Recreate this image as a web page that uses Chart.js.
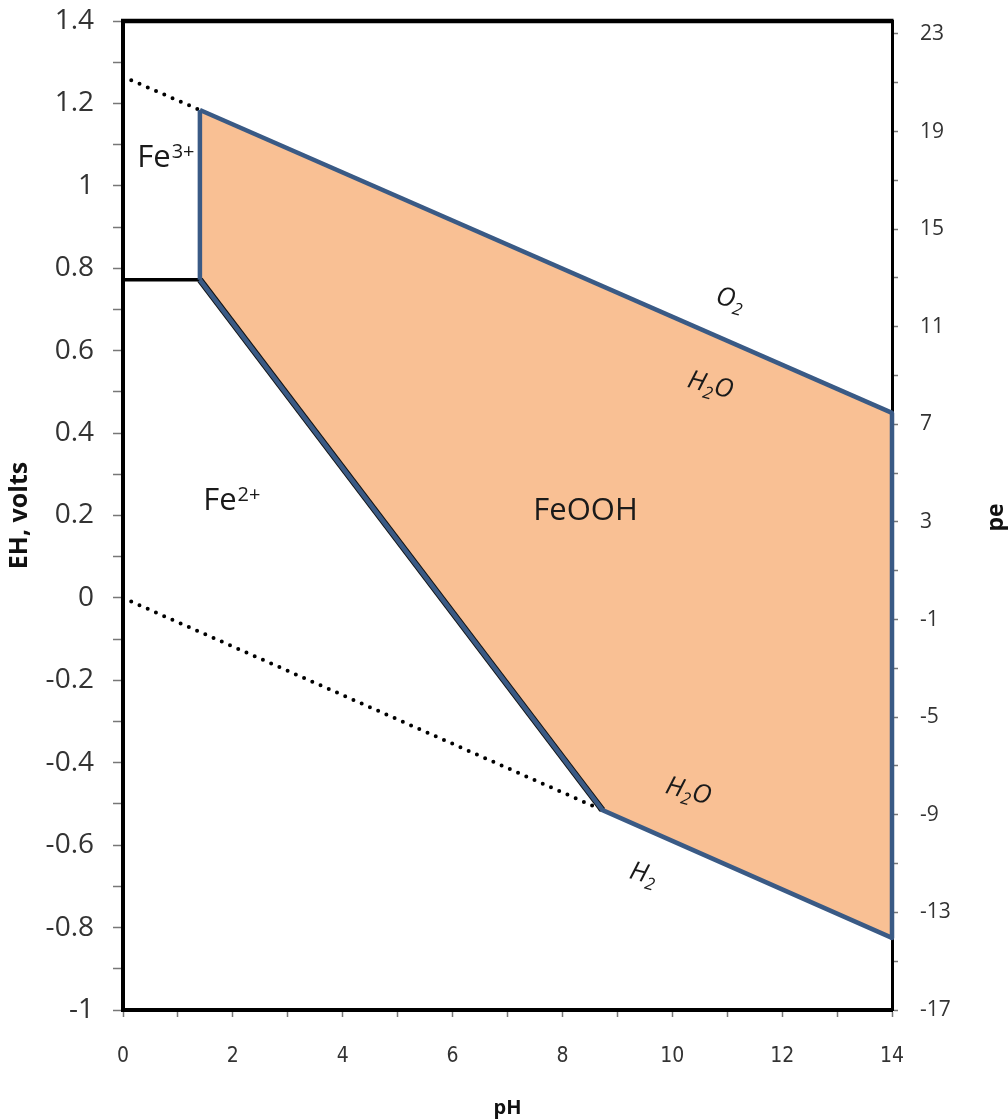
<!DOCTYPE html>
<html>
<head>
<meta charset="utf-8">
<title>Fe Eh-pH diagram</title>
<script src="https://cdn.jsdelivr.net/npm/chart.js@4/dist/chart.umd.min.js"></script>
<style>
  html, body { margin: 0; padding: 0; background: #ffffff; }
  #wrap { width: 1008px; height: 1120px; }
</style>
</head>
<body>
<div id="wrap"><canvas id="c" width="1008" height="1120"></canvas></div>
<script>
// Axis tick values
const phTicks = [0, 2, 4, 6, 8, 10, 12, 14];
const ehTicks = [1.4, 1.2, 1, 0.8, 0.6, 0.4, 0.2, 0, -0.2, -0.4, -0.6, -0.8, -1];
const peTicks = [23, 19, 15, 11, 7, 3, -1, -5, -9, -13, -17];

// Water stability limits (O2/H2O upper, H2O/H2 lower)
const o2PH = [0, 1.4, 14];
const o2EH = [1.265, 1.184, 0.449];
const h2PH = [0, 8.73, 14];
const h2EH = [0, -0.515, -0.825];

// Iron species boundaries
const fe3Fe2PH = [0, 1.4];          // Fe3+ / Fe2+
const fe3Fe2EH = [0.772, 0.772];
const fe3OxPH = [1.4, 1.4];          // Fe3+ / FeOOH
const fe3OxEH = [0.772, 1.184];
const fe2OxPH = [1.4, 8.73];         // Fe2+ / FeOOH
const fe2OxEH = [0.772, -0.515];

// Field and line labels, anchored in pH / Eh coordinates
const fieldLabels = [
  { main: 'Fe', sup: '3+', ph: 0.26, eh: 1.046 },
  { main: 'Fe', sup: '2+', ph: 1.46, eh: 0.214 },
  { main: 'FeOOH', sup: '', ph: 7.47, eh: 0.188 }
];
const lineLabels = [
  { main: 'O', sub: '2', tail: '', ph: 11.06, eh: 0.728 },
  { main: 'H', sub: '2', tail: 'O', ph: 10.70, eh: 0.519 },
  { main: 'H', sub: '2', tail: 'O', ph: 10.30, eh: -0.466 },
  { main: 'H', sub: '2', tail: '', ph: 9.48, eh: -0.667 }
];

const pts = (xs, ys, from = 0, to = xs.length) =>
  xs.slice(from, to).map((x, i) => ({ x, y: ys[from + i] }));

const BLUE = '#3A5A85';
const PEACH = '#F9C094';
const FONT = "'Open Sans', 'DejaVu Sans', sans-serif";

// FeOOH field: bounded above by the O2/H2O line, below by Fe2+/FeOOH then H2O/H2
const fieldUpper = pts(o2PH, o2EH, 1, 3);
const fieldLower = pts(fe2OxPH, fe2OxEH).concat(pts(h2PH, h2EH, 2, 3));
const rightEdge = [{ x: o2PH[2], y: o2EH[2] }, { x: h2PH[2], y: h2EH[2] }];

const lineDs = (data, color, width, extra = {}) => Object.assign({
  data, showLine: true, borderColor: color, borderWidth: width,
  pointRadius: 0, pointHoverRadius: 0, fill: false, clip: false,
  borderJoinStyle: 'round', tension: 0
}, extra);

const dotted = { borderDash: [0, 9], borderCapStyle: 'round' };

const datasets = [
  lineDs(fieldUpper, BLUE, 4.5, { fill: { target: 1 }, backgroundColor: PEACH }), // 0
  lineDs(fieldLower, BLUE, 4.5),                                                    // 1
  lineDs(pts(fe3OxPH, fe3OxEH), BLUE, 4.5),                                         // 2
  lineDs(rightEdge, BLUE, 4.5),                                                     // 3
  lineDs(pts(fe2OxPH, fe2OxEH), '#111111', 6.5),                                    // 4
  lineDs(pts(fe3Fe2PH, fe3Fe2EH), '#000000', 3.5),                                  // 5
  lineDs(pts(o2PH, o2EH, 0, 2), '#000000', 4, dotted),
  lineDs(pts(h2PH, h2EH, 0, 2), '#000000', 4, dotted)
];

// Major ticks plus unlabeled midpoints
function withMinor(major) {
  const sorted = major.slice().sort((a, b) => a - b);
  const out = [];
  sorted.forEach((v, i) => {
    out.push({ value: v });
    if (i < sorted.length - 1) out.push({ value: (v + sorted[i + 1]) / 2 });
  });
  return out;
}
const labelFor = (major) => (v) => major.includes(v) ? String(v) : '';

// keep the plot area fixed, labels may overhang the edges
function fitVertical(width) {
  return (s) => { s.width = width; s.paddingTop = 0; s.paddingBottom = 0; };
}

const framePlugin = {
  id: 'frame',
  afterDatasetsDraw(chart) {
    const { ctx, chartArea: a, scales } = chart;
    ctx.save();
    // top frame line
    ctx.strokeStyle = '#000';
    ctx.lineWidth = 4.5;
    ctx.beginPath();
    ctx.moveTo(a.left - 2, a.top);
    ctx.lineTo(a.right + 1.5, a.top);
    ctx.stroke();

    // field labels
    ctx.fillStyle = '#1a1a1a';
    ctx.textBaseline = 'alphabetic';
    ctx.textAlign = 'left';
    fieldLabels.forEach(l => {
      const x = scales.x.getPixelForValue(l.ph);
      const y = scales.y.getPixelForValue(l.eh);
      ctx.font = `31px ${FONT}`;
      ctx.fillText(l.main, x, y);
      const w = ctx.measureText(l.main).width;
      if (l.sup) {
        ctx.font = `20px ${FONT}`;
        ctx.fillText(l.sup, x + w + 1, y - 9);
      }
    });

    // water-line labels, tilted along the lines
    lineLabels.forEach(l => {
      const x = scales.x.getPixelForValue(l.ph);
      const y = scales.y.getPixelForValue(l.eh);
      ctx.save();
      ctx.translate(x, y);
      ctx.rotate(15 * Math.PI / 180);
      ctx.font = `italic 26px ${FONT}`;
      const wm = ctx.measureText(l.main).width;
      const wt = ctx.measureText(l.tail).width;
      ctx.font = `italic 17px ${FONT}`;
      const ws = ctx.measureText(l.sub).width;
      const x0 = -(wm + ws + wt) / 2;
      ctx.font = `italic 26px ${FONT}`;
      ctx.fillText(l.main, x0, 9);
      ctx.font = `italic 17px ${FONT}`;
      ctx.fillText(l.sub, x0 + wm, 15);
      ctx.font = `italic 26px ${FONT}`;
      ctx.fillText(l.tail, x0 + wm + ws, 9);
      ctx.restore();
    });

    // right axis title
    ctx.save();
    ctx.translate(996, (a.top + a.bottom) / 2 + 2);
    ctx.rotate(-Math.PI / 2);
    ctx.font = `bold 23px ${FONT}`;
    ctx.fillStyle = '#111';
    ctx.textAlign = 'center';
    ctx.textBaseline = 'middle';
    ctx.fillText('pe', 0, 0);
    ctx.restore();
    ctx.restore();
  }
};

Chart.defaults.font.family = FONT;

new Chart(document.getElementById('c'), {
  type: 'scatter',
  data: { datasets },
  plugins: [framePlugin],
  options: {
    responsive: false,
    animation: false,
    events: [],
    layout: { padding: { top: 21, left: 0, right: 0, bottom: 0 } },
    plugins: {
      legend: { display: false },
      tooltip: { enabled: false },
      filler: { drawTime: 'beforeDatasetsDraw' }
    },
    scales: {
      x: {
        type: 'linear', position: 'bottom', min: 0, max: 14,
        afterFit(s) { s.height = 110; s.paddingLeft = 0; s.paddingRight = 0; },
        afterBuildTicks(s) { s.ticks = withMinor(phTicks); },
        border: { display: true, color: '#000', width: 4 },
        grid: { drawOnChartArea: false, drawTicks: true, tickLength: 7, tickColor: '#777', tickWidth: 1.5 },
        ticks: {
          autoSkip: false, maxRotation: 0, padding: 27, color: '#333',
          font: { family: "'Liberation Sans Narrow', 'DejaVu Sans Condensed', sans-serif", size: 21 },
          callback: labelFor(phTicks)
        },
        title: {
          display: true, text: 'pH', color: '#111',
          font: { family: FONT, size: 20, weight: 'bold' }, padding: { top: 0, bottom: 0 }
        }
      },
      y: {
        type: 'linear', position: 'left', min: -1, max: 1.4,
        afterFit: fitVertical(123),
        afterBuildTicks(s) { s.ticks = withMinor(ehTicks); },
        border: { display: true, color: '#000', width: 4 },
        grid: { drawOnChartArea: false, drawTicks: true, tickLength: 10, tickColor: '#777', tickWidth: 1.5 },
        ticks: {
          autoSkip: false, padding: 19, color: '#333',
          font: { family: FONT, size: 28 },
          callback: labelFor(ehTicks)
        },
        title: {
          display: true, text: 'EH, volts', color: '#111',
          font: { family: FONT, size: 25, weight: 'bold' }, padding: { top: 5, bottom: 0 }
        }
      },
      y2: {
        type: 'linear', position: 'right', min: -17, max: 23.53,
        afterFit: fitVertical(116),
        afterBuildTicks(s) { s.ticks = withMinor(peTicks); },
        border: { display: true, color: '#000', width: 3 },
        grid: { drawOnChartArea: false, drawTicks: true, tickLength: 6, tickColor: '#777', tickWidth: 1.5 },
        ticks: {
          autoSkip: false, padding: 22, color: '#333',
          font: { family: FONT, size: 21 },
          callback: labelFor(peTicks)
        }
      }
    }
  }
});
</script>
</body>
</html>
